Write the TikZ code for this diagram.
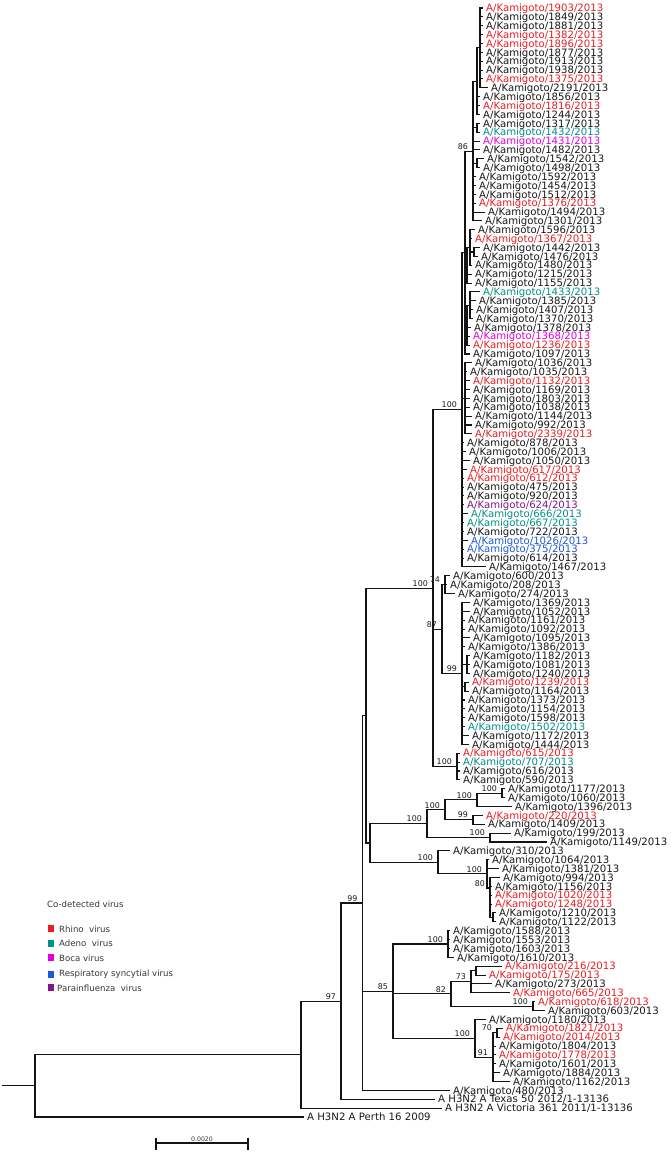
\documentclass[tikz,border=0pt]{standalone}
\usepackage{fontspec}
\newfontfamily\dv{DejaVu Sans}
\definecolor{cred}{RGB}{232,30,36}
\definecolor{cteal}{RGB}{0,145,135}
\definecolor{cmag}{RGB}{225,0,225}
\definecolor{cblue}{RGB}{30,90,215}
\definecolor{cpur}{RGB}{135,20,135}
\definecolor{cblk}{RGB}{25,25,25}
\definecolor{cline}{RGB}{20,20,20}
\definecolor{clg}{RGB}{55,55,55}
\newcommand\Lf[5]{\node[lf,text=#4] (l#1) at (#2,{row(#1)}) {#5};\draw[br] (#3) |- (l#1.west);}
\newcommand\Kg[1]{A/Kamigoto/#1/2013}
\newcommand\Bs[2]{\node[bs] (bs#1) at ([shift={(-5,-1.5)}]#1) {#2};}
\begin{document}
\begin{tikzpicture}[x=1pt,y=-1pt,
  declare function={row(\i)=8+8.872*(\i-1);},
  lf/.style={anchor=west,inner xsep=3pt,inner ysep=0pt,text height=7.4pt,text depth=0pt,font=\dv\fontsize{10.15}{12}\selectfont},
  br/.style={draw=cline,line width=1.05pt},
  bs/.style={anchor=south east,inner sep=0pt,text=cblk,font=\dv\fontsize{7.9}{9}\selectfont},
  lgt/.style={anchor=west,inner sep=0pt,text=clg,font=\dv\fontsize{8.6}{10}\selectfont},
  sq/.style={minimum width=6pt,minimum height=7pt,inner sep=0pt,draw=none}]
\fill[white] (0,0) rectangle (671,1155);
\useasboundingbox (0,0) rectangle (671,1155);
% internal nodes
\coordinate (Na) at (480,47.924);
\coordinate (Nb) at (477,81.194);
\coordinate (Nc) at (477,127.772);
\coordinate (Nd) at (477,163.26);
\coordinate (N86) at (473,151.061);
\coordinate (NB2) at (474,251.98);
\coordinate (NB1) at (470,247.544);
\coordinate (NB) at (467,265.288);
\coordinate (NC1) at (470,305.212);
\coordinate (NC) at (467,325.174);
\coordinate (Ntop) at (465,252.535);
\coordinate (ND) at (465,398.368);
\coordinate (N100a) at (462,409.736);
\coordinate (N74) at (445,584.68);
\coordinate (NE) at (467,664.528);
\coordinate (NF) at (465,686.708);
\coordinate (N99b) at (462,673.4);
\coordinate (N87) at (442,629.04);
\coordinate (N100c) at (457,766.556);
\coordinate (N433) at (433,588.146);
\coordinate (N502) at (502,793.172);
\coordinate (N477) at (477,799.826);
\coordinate (N473b) at (473,819.788);
\coordinate (N445) at (445,809.807);
\coordinate (N490) at (490,837.532);
\coordinate (N427) at (427,823.67);
\coordinate (N493) at (493,917.38);
\coordinate (N490b) at (490,888);
\coordinate (N487) at (487,873.856);
\coordinate (N438) at (438,862.348);
\coordinate (N370) at (370,843.009);
\coordinate (N365) at (366,715.578);
\coordinate (N448) at (448,943.996);
\coordinate (N476) at (476,970.612);
\coordinate (N471) at (471,981.702);
\coordinate (N533) at (533,1006.1);
\coordinate (N451) at (451,993.901);
\coordinate (N497) at (497,1032.716);
\coordinate (N493b) at (493,1057.114);
\coordinate (N475) at (475,1038.261);
\coordinate (N393) at (393,991.129);
\coordinate (N362) at (362.5,902.981);
\coordinate (N341) at (341,1001.119);
\coordinate (N301) at (301,1054.624);
\coordinate (Root) at (35,1085.812);
\coordinate (RootStub) at (2,1085.812);
% internal connectors
\draw[br] (RootStub) -- (Root);
\foreach \p/\c in {Nb/Na,N86/Nb,N86/Nc,N86/Nd,Ntop/N86,NB1/NB2,NB/NB1,Ntop/NB,NC/NC1,Ntop/NC,
  N100a/Ntop,N100a/ND,N433/N100a,N433/N87,N433/N100c,N87/N74,N87/N99b,N99b/NE,N99b/NF,
  N365/N433,N365/N370,N370/N427,N370/N438,N427/N445,N427/N490,N445/N477,N445/N473b,N477/N502,
  N438/N487,N487/N490b,N490b/N493,N362/N365,N362/N393,N393/N448,N393/N451,N393/N475,
  N451/N471,N451/N533,N471/N476,N475/N493b,N493b/N497,N341/N362,N301/N341,Root/N301}
  {\draw[br] (\p) |- (\c);}
% leaves
\Lf{1}{483}{Na}{cred}{\Kg{1903}}
\Lf{2}{483}{Na}{cblk}{\Kg{1849}}
\Lf{3}{483}{Na}{cblk}{\Kg{1881}}
\Lf{4}{483}{Na}{cred}{\Kg{1382}}
\Lf{5}{483}{Na}{cred}{\Kg{1896}}
\Lf{6}{483}{Na}{cblk}{\Kg{1877}}
\Lf{7}{483}{Na}{cblk}{\Kg{1913}}
\Lf{8}{483}{Na}{cblk}{\Kg{1938}}
\Lf{9}{483}{Na}{cred}{\Kg{1375}}
\Lf{10}{488}{Na}{cblk}{\Kg{2191}}
\Lf{11}{480}{Nb}{cblk}{\Kg{1856}}
\Lf{12}{480}{Nb}{cred}{\Kg{1816}}
\Lf{13}{480}{Nb}{cblk}{\Kg{1244}}
\Lf{14}{480}{Nc}{cblk}{\Kg{1317}}
\Lf{15}{480}{Nc}{cteal}{\Kg{1432}}
\Lf{16}{480}{N86}{cmag}{\Kg{1431}}
\Lf{17}{480}{N86}{cblk}{\Kg{1482}}
\Lf{18}{484}{Nd}{cblk}{\Kg{1542}}
\Lf{19}{480}{Nd}{cblk}{\Kg{1498}}
\Lf{20}{476}{N86}{cblk}{\Kg{1592}}
\Lf{21}{476}{N86}{cblk}{\Kg{1454}}
\Lf{22}{476}{N86}{cblk}{\Kg{1512}}
\Lf{23}{476}{N86}{cred}{\Kg{1376}}
\Lf{24}{485}{N86}{cblk}{\Kg{1494}}
\Lf{25}{482}{N86}{cblk}{\Kg{1301}}
\Lf{26}{475}{NB1}{cblk}{\Kg{1596}}
\Lf{27}{472}{NB1}{cred}{\Kg{1367}}
\Lf{28}{480}{NB2}{cblk}{\Kg{1442}}
\Lf{29}{478}{NB2}{cblk}{\Kg{1476}}
\Lf{30}{472}{NB1}{cblk}{\Kg{1480}}
\Lf{31}{472}{NB}{cblk}{\Kg{1215}}
\Lf{32}{472}{NB}{cblk}{\Kg{1155}}
\Lf{33}{480}{NC1}{cteal}{\Kg{1433}}
\Lf{34}{476}{NC1}{cblk}{\Kg{1385}}
\Lf{35}{473}{NC1}{cblk}{\Kg{1407}}
\Lf{36}{473}{NC1}{cblk}{\Kg{1370}}
\Lf{37}{471}{NC}{cblk}{\Kg{1378}}
\Lf{38}{470}{NC}{cmag}{\Kg{1368}}
\Lf{39}{470}{NC}{cred}{\Kg{1236}}
\Lf{40}{470}{Ntop}{cblk}{\Kg{1097}}
\Lf{41}{472}{ND}{cblk}{\Kg{1036}}
\Lf{42}{467}{ND}{cblk}{\Kg{1035}}
\Lf{43}{470}{ND}{cred}{\Kg{1132}}
\Lf{44}{470}{ND}{cblk}{\Kg{1169}}
\Lf{45}{470}{ND}{cblk}{\Kg{1803}}
\Lf{46}{470}{ND}{cblk}{\Kg{1038}}
\Lf{47}{472}{ND}{cblk}{\Kg{1144}}
\Lf{48}{472}{ND}{cblk}{\Kg{992}}
\Lf{49}{472}{ND}{cred}{\Kg{2339}}
\Lf{50}{464}{N100a}{cblk}{\Kg{878}}
\Lf{51}{466}{N100a}{cblk}{\Kg{1006}}
\Lf{52}{470}{N100a}{cblk}{\Kg{1050}}
\Lf{53}{467}{N100a}{cred}{\Kg{617}}
\Lf{54}{464}{N100a}{cred}{\Kg{612}}
\Lf{55}{464}{N100a}{cblk}{\Kg{475}}
\Lf{56}{464}{N100a}{cblk}{\Kg{920}}
\Lf{57}{464}{N100a}{cpur}{\Kg{624}}
\Lf{58}{468}{N100a}{cteal}{\Kg{666}}
\Lf{59}{464}{N100a}{cteal}{\Kg{667}}
\Lf{60}{464}{N100a}{cblk}{\Kg{722}}
\Lf{61}{468}{N100a}{cblue}{\Kg{1026}}
\Lf{62}{464}{N100a}{cblue}{\Kg{375}}
\Lf{63}{464}{N100a}{cblk}{\Kg{614}}
\Lf{64}{486}{N100a}{cblk}{\Kg{1467}}
\Lf{65}{450}{N74}{cblk}{\Kg{600}}
\Lf{66}{447}{N74}{cblk}{\Kg{208}}
\Lf{67}{455}{N74}{cblk}{\Kg{274}}
\Lf{68}{470}{N99b}{cblk}{\Kg{1369}}
\Lf{69}{470}{N99b}{cblk}{\Kg{1052}}
\Lf{70}{465}{N99b}{cblk}{\Kg{1161}}
\Lf{71}{465}{N99b}{cblk}{\Kg{1092}}
\Lf{72}{470}{N99b}{cblk}{\Kg{1095}}
\Lf{73}{465}{N99b}{cblk}{\Kg{1386}}
\Lf{74}{470}{NE}{cblk}{\Kg{1182}}
\Lf{75}{470}{NE}{cblk}{\Kg{1081}}
\Lf{76}{470}{NE}{cblk}{\Kg{1240}}
\Lf{77}{469}{NF}{cred}{\Kg{1239}}
\Lf{78}{469}{NF}{cblk}{\Kg{1164}}
\Lf{79}{465}{N99b}{cblk}{\Kg{1373}}
\Lf{80}{465}{N99b}{cblk}{\Kg{1154}}
\Lf{81}{465}{N99b}{cblk}{\Kg{1598}}
\Lf{82}{465}{N99b}{cteal}{\Kg{1502}}
\Lf{83}{469}{N99b}{cblk}{\Kg{1172}}
\Lf{84}{469}{N99b}{cblk}{\Kg{1444}}
\Lf{85}{460}{N100c}{cred}{\Kg{615}}
\Lf{86}{460}{N100c}{cteal}{\Kg{707}}
\Lf{87}{460}{N100c}{cblk}{\Kg{616}}
\Lf{88}{460}{N100c}{cblk}{\Kg{590}}
\Lf{89}{505}{N502}{cblk}{\Kg{1177}}
\Lf{90}{505}{N502}{cblk}{\Kg{1060}}
\Lf{91}{512}{N477}{cblk}{\Kg{1396}}
\Lf{92}{483}{N473b}{cred}{\Kg{220}}
\Lf{93}{485}{N473b}{cblk}{\Kg{1409}}
\Lf{94}{511}{N490}{cblk}{\Kg{199}}
\Lf{95}{547}{N490}{cblk}{\Kg{1149}}
\Lf{96}{450}{N438}{cblk}{\Kg{310}}
\Lf{97}{489}{N487}{cblk}{\Kg{1064}}
\Lf{98}{499}{N487}{cblk}{\Kg{1381}}
\Lf{99}{500}{N490b}{cblk}{\Kg{994}}
\Lf{100}{492}{N490b}{cblk}{\Kg{1156}}
\Lf{101}{492}{N490b}{cred}{\Kg{1020}}
\Lf{102}{492}{N490b}{cred}{\Kg{1248}}
\Lf{103}{496}{N493}{cblk}{\Kg{1210}}
\Lf{104}{496}{N493}{cblk}{\Kg{1122}}
\Lf{105}{450}{N448}{cblk}{\Kg{1588}}
\Lf{106}{450}{N448}{cblk}{\Kg{1553}}
\Lf{107}{450}{N448}{cblk}{\Kg{1603}}
\Lf{108}{454}{N448}{cblk}{\Kg{1610}}
\Lf{109}{502}{N476}{cred}{\Kg{216}}
\Lf{110}{486}{N476}{cred}{\Kg{175}}
\Lf{111}{492}{N471}{cblk}{\Kg{273}}
\Lf{112}{510}{N471}{cred}{\Kg{665}}
\Lf{113}{535}{N533}{cred}{\Kg{618}}
\Lf{114}{545}{N533}{cblk}{\Kg{603}}
\Lf{115}{486}{N475}{cblk}{\Kg{1180}}
\Lf{116}{503}{N497}{cred}{\Kg{1821}}
\Lf{117}{500}{N497}{cred}{\Kg{2014}}
\Lf{118}{496}{N493b}{cblk}{\Kg{1804}}
\Lf{119}{496}{N493b}{cred}{\Kg{1778}}
\Lf{120}{496}{N493b}{cblk}{\Kg{1601}}
\Lf{121}{500}{N493b}{cblk}{\Kg{1884}}
\Lf{122}{510}{N493b}{cblk}{\Kg{1162}}
\Lf{123}{450}{N362}{cblk}{\Kg{480}}
\Lf{124}{435}{N341}{cblk}{A H3N2 A Texas 50 2012/1-13136}
\Lf{125}{442}{N301}{cblk}{A H3N2 A Victoria 361 2011/1-13136}
\Lf{126}{304}{Root}{cblk}{A H3N2 A Perth 16 2009}
% bootstrap values
\Bs{N86}{86}
\Bs{N100a}{100}
\Bs{N433}{100}
\Bs{N74}{74}
\Bs{N87}{87}
\Bs{N99b}{99}
\Bs{N100c}{100}
\Bs{N502}{100}
\Bs{N477}{100}
\Bs{N473b}{99}
\Bs{N445}{100}
\Bs{N490}{100}
\Bs{N427}{100}
\Bs{N490b}{80}
\Bs{N487}{100}
\Bs{N438}{100}
\Bs{N448}{100}
\Bs{N471}{73}
\Bs{N451}{82}
\Bs{N533}{100}
\Bs{N497}{70}
\Bs{N493b}{91}
\Bs{N475}{100}
\Bs{N393}{85}
\Bs{N362}{99}
\Bs{N341}{97}
% legend
\node[lgt] (lgtitle) at (47,904) {Co-detected virus};
\node[sq,fill=cred] (sq1) at (51,928.5) {};
\node[lgt] (lg1) at (59,929) {Rhino\ \ virus};
\node[sq,fill=cteal] (sq2) at (51,943.5) {};
\node[lgt] (lg2) at (59,943) {Adeno\ \ virus};
\node[sq,fill=cmag] (sq3) at (51,957.5) {};
\node[lgt] (lg3) at (59,958) {Boca virus};
\node[sq,fill=cblue] (sq4) at (51,974) {};
\node[lgt] (lg4) at (59,974) {Respiratory syncytial virus};
\node[sq,fill=cpur] (sq5) at (51,987.5) {};
\node[lgt] (lg5) at (57,988) {Parainfluenza\ \ virus};
% scale bar
\coordinate (sbL) at (156,1143);
\coordinate (sbR) at (248,1143);
\coordinate (sbLt) at (156,1137.5);
\coordinate (sbLb) at (156,1149.5);
\coordinate (sbRt) at (248,1137.5);
\coordinate (sbRb) at (248,1149.5);
\draw[br] (sbL) -- (sbR);
\draw[br] (sbLt) -- (sbLb);
\draw[br] (sbRt) -- (sbRb);
\node[anchor=south,inner sep=0pt,text=clg,font=\dv\fontsize{6.2}{7}\selectfont] (sblab) at (202,1141.5) {0.0020};
\end{tikzpicture}
\end{document}
